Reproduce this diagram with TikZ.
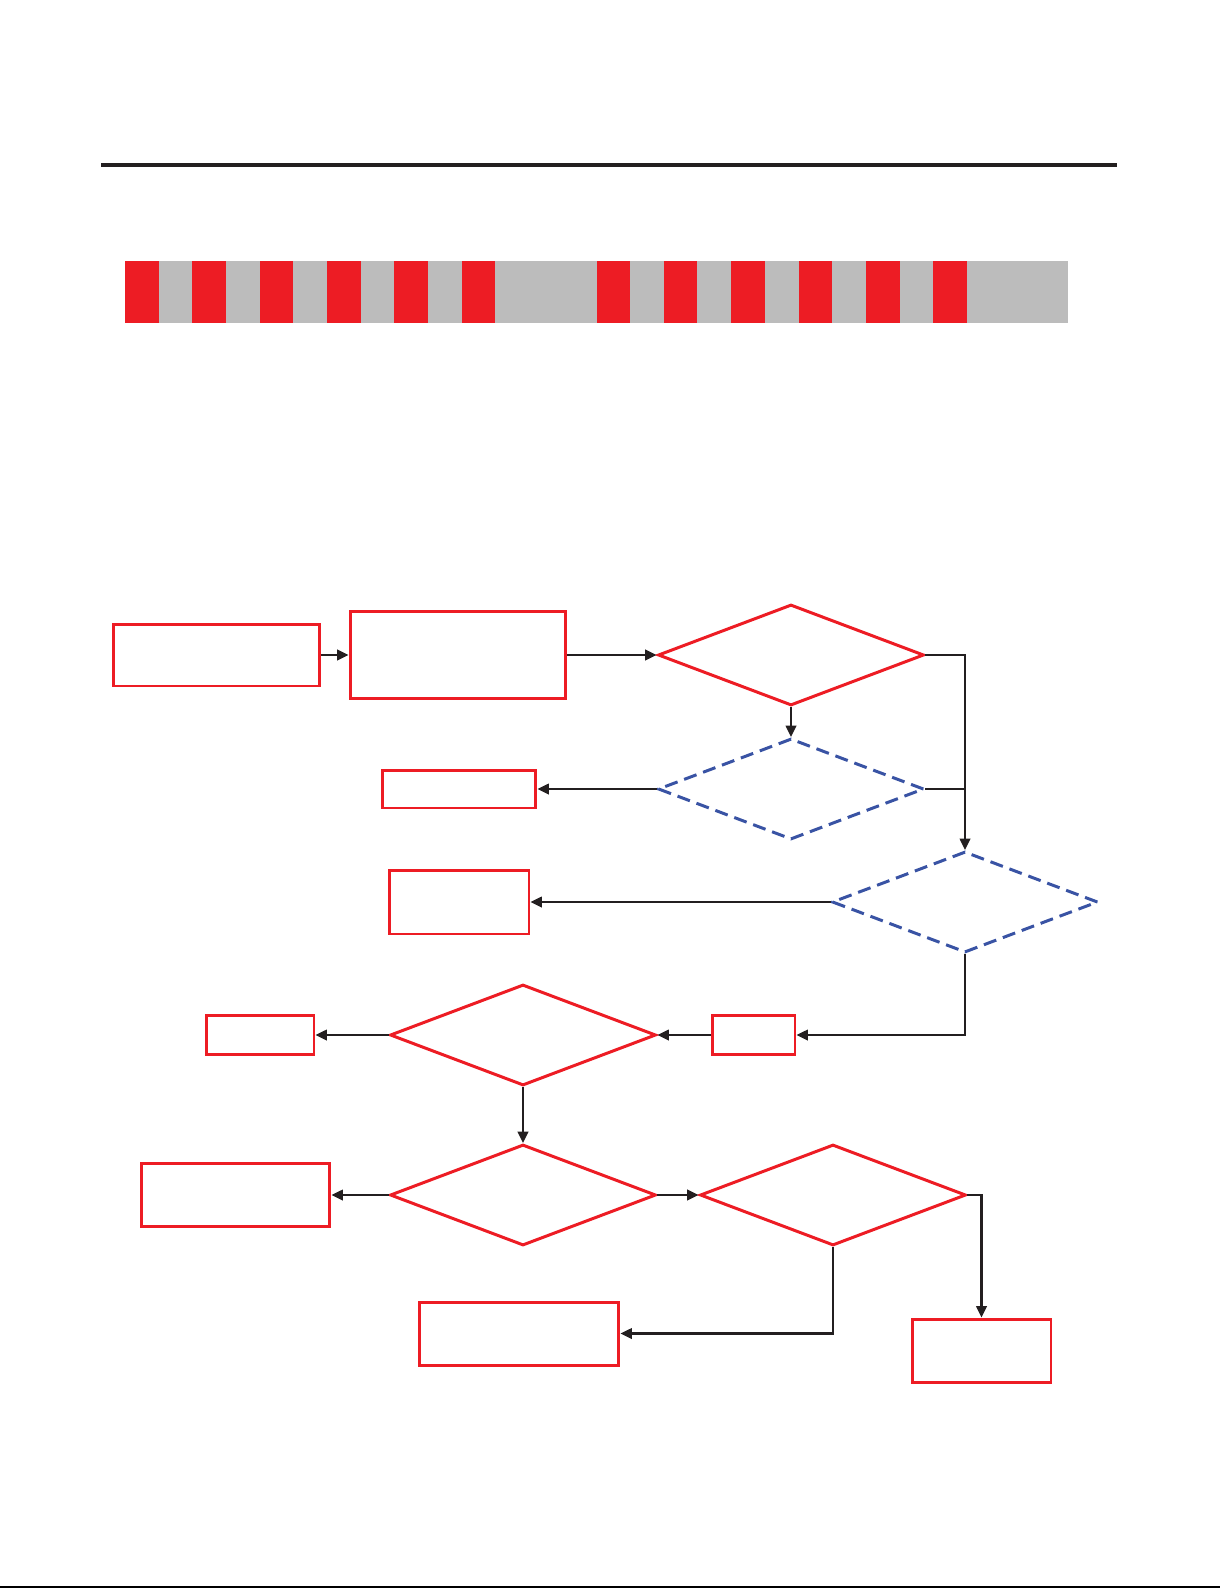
\documentclass[tikz,border=0pt]{standalone}
\usetikzlibrary{shapes.geometric,arrows.meta}
\definecolor{myred}{HTML}{ED1C24}
\definecolor{mygray}{HTML}{BCBCBC}
\definecolor{myblue}{HTML}{3953A4}
\definecolor{myblack}{HTML}{231F20}
\begin{document}
\begin{tikzpicture}[x=0.02cm,y=-0.02cm,
  rbox/.style={draw=myred,line width=1.7pt,rectangle,inner sep=0pt},
  rdia/.style={draw=myred,line width=1.7pt,diamond,inner sep=0pt,minimum width=5.32cm,minimum height=2.02cm},
  bdia/.style={draw=myblue,line width=1.7pt,diamond,inner sep=0pt,minimum width=5.32cm,minimum height=2.02cm,dash pattern=on 7.5pt off 4pt},
  conn/.style={draw=myblack,line width=1.2pt,-{Triangle[length=6.5pt,width=6pt]}},
  plain/.style={draw=myblack,line width=1.2pt}]
\path[use as bounding box] (0,0) rectangle (1220,1588);
% header rule
\draw[myblack,line width=2.3pt] (101,165) -- (1117,165);
% stripe bar
\fill[mygray] (125,261) rectangle (1068,323);
\foreach \k in {0,1,2,3,4,5,7,8,9,10,11,12}{
  \fill[myred] ({125+\k*67.36},261) rectangle ({125+\k*67.36+33.6},323);
}
% bottom rule
\draw[black,line width=0.9pt] (0,1587) -- (1220,1587);
% boxes
\node[rbox,minimum width=4.14cm,minimum height=1.24cm] (A) at (216.5,655) {};
\node[rbox,minimum width=4.32cm,minimum height=1.74cm] (B) at (458,655) {};
\node[rbox,minimum width=3.08cm,minimum height=0.76cm] (C) at (459,789) {};
\node[rbox,minimum width=2.80cm,minimum height=1.28cm] (E) at (459,902) {};
\node[rbox,minimum width=1.66cm,minimum height=0.78cm] (F) at (753.5,1035) {};
\node[rbox,minimum width=2.16cm,minimum height=0.78cm] (G) at (260,1035) {};
\node[rbox,minimum width=3.78cm,minimum height=1.26cm] (H) at (235.5,1195) {};
\node[rbox,minimum width=4.00cm,minimum height=1.26cm] (I) at (519,1333.5) {};
\node[rbox,minimum width=2.78cm,minimum height=1.26cm] (J) at (981.5,1350.5) {};
% diamonds
\node[rdia] (D1) at (791,655) {};
\node[bdia] (D2) at (791,789) {};
\node[bdia] (D3) at (965,902) {};
\node[rdia] (D4) at (523,1035) {};
\node[rdia] (D5) at (523,1195) {};
\node[rdia] (D6) at (833,1195) {};
\coordinate (jn) at (965,789);
% connectors
\draw[conn] (A.east) -- (B.west);
\draw[conn] (B.east) -- (D1.west);
\draw[conn] (D1.south) -- (D2.north);
\draw[conn] (D2.west) -- (C.east);
\draw[conn] (D1.east) -| (D3.north);
\draw[plain] (D2.east) -- (jn);
\draw[conn] (D3.west) -- (E.east);
\draw[conn] (D3.south) |- (F.east);
\draw[conn] (F.west) -- (D4.east);
\draw[conn] (D4.west) -- (G.east);
\draw[conn] (D4.south) -- (D5.north);
\draw[conn] (D5.west) -- (H.east);
\draw[conn] (D5.east) -- (D6.west);
\draw[conn] (D6.east) -| (J.north);
\draw[conn] (D6.south) |- (I.east);
\end{tikzpicture}
\end{document}
